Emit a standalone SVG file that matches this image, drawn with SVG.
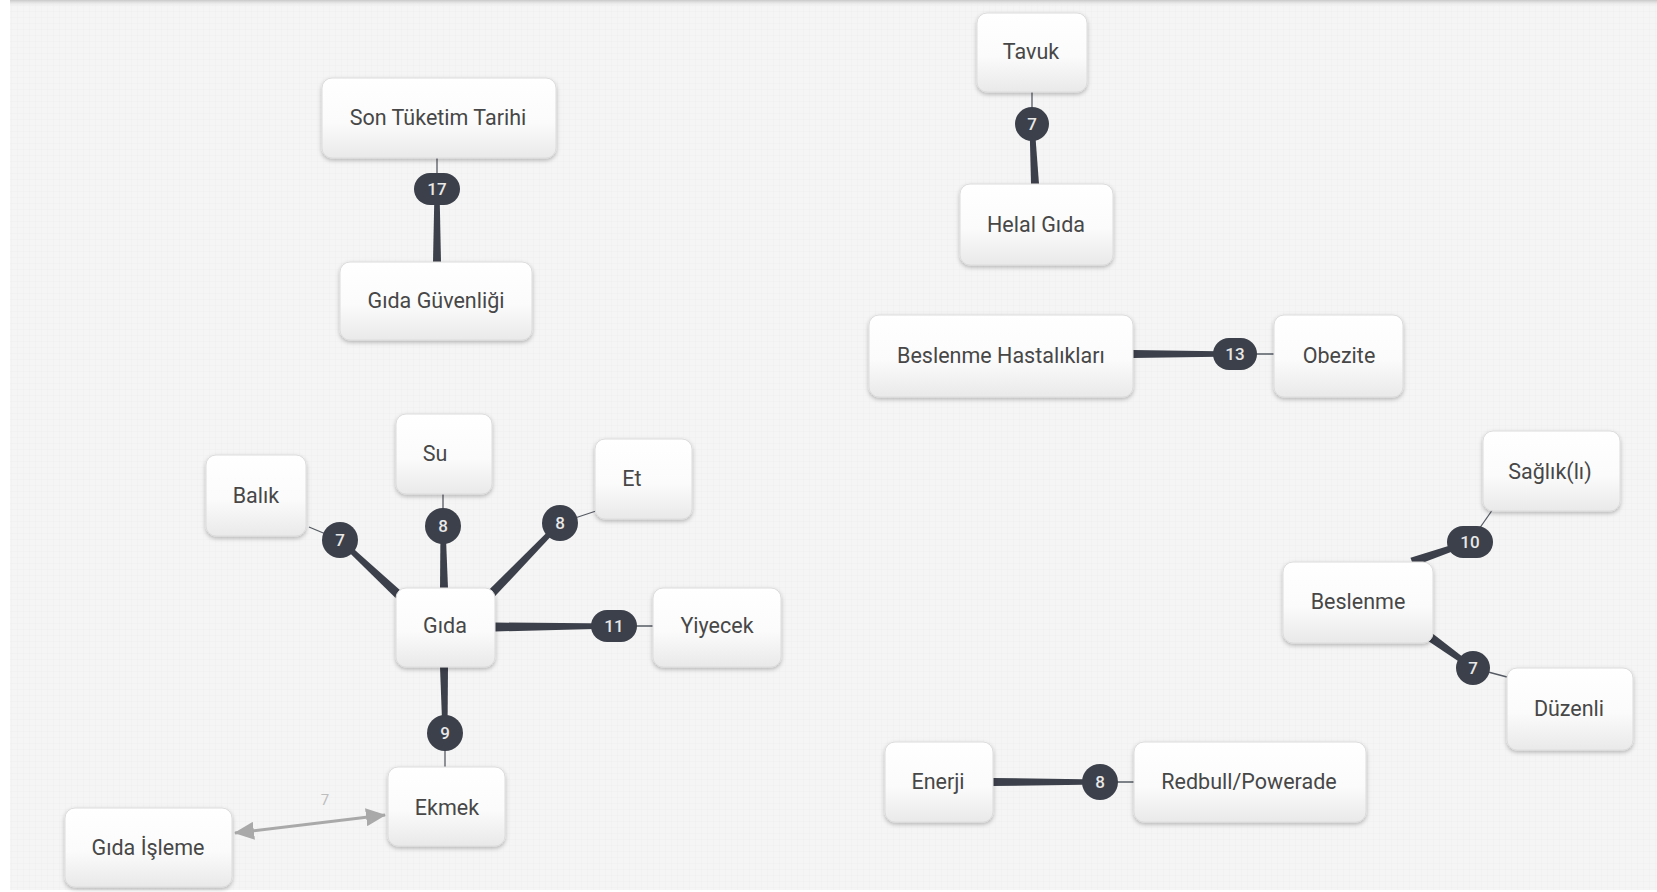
<svg xmlns="http://www.w3.org/2000/svg" width="1657" height="892" viewBox="0 0 1657 892">
<defs>
<linearGradient id="nodeGrad" x1="0" y1="0" x2="0" y2="1">
<stop offset="0" stop-color="#ffffff"/>
<stop offset="0.55" stop-color="#fbfbfb"/>
<stop offset="1" stop-color="#e9e9e9"/>
</linearGradient>
<linearGradient id="topShade" x1="0" y1="0" x2="0" y2="1">
<stop offset="0" stop-color="#c8c8c8"/>
<stop offset="1" stop-color="#f4f4f4" stop-opacity="0"/>
</linearGradient>
<pattern id="grid" width="6" height="6" patternUnits="userSpaceOnUse">
<rect width="6" height="6" fill="#f5f5f5"/>
<path d="M6 0V6M0 6H6" stroke="#efefef" stroke-width="1"/>
</pattern>
<filter id="shadow" x="-20%" y="-20%" width="140%" height="150%">
<feDropShadow dx="0" dy="2" stdDeviation="2.2" flood-color="#000" flood-opacity="0.26"/>
</filter>
<marker id="arrow" viewBox="0 0 20 18" refX="19" refY="9" markerWidth="20" markerHeight="18" markerUnits="userSpaceOnUse" orient="auto-start-reverse">
<path d="M0 0L20 9L0 18Z" fill="#a9a9a9"/>
</marker>
<style>
.node rect{fill:url(#nodeGrad);stroke:#dcdcdc;stroke-width:1;filter:url(#shadow)}
.node text{font-family:Roboto,"Liberation Sans",sans-serif;font-size:21.5px;fill:#474747;text-anchor:middle;dominant-baseline:central}
.thick{fill:#3c404a}
.thin{stroke:#555a63;stroke-width:1.3;fill:none}
.badge{fill:#3c404a}
.btxt{font-family:Roboto,"Liberation Sans",sans-serif;font-size:17px;font-weight:500;fill:#e8e8e8;text-anchor:middle;dominant-baseline:central}
</style>
</defs>
<rect width="1657" height="892" fill="#ffffff"/>
<rect x="10" y="0" width="1647" height="890" fill="url(#grid)"/>
<rect x="10" y="0" width="1647" height="7" fill="url(#topShade)"/>

<g id="connectors">
<!-- Son Tüketim Tarihi - Gıda Güvenliği -->
<line class="thin" x1="437" y1="157" x2="437" y2="189"/>
<polygon class="thick" points="434.5,189 439.5,189 441,262 433,262"/>
<rect class="badge" x="414" y="173" width="46" height="32" rx="16"/>
<text class="btxt" x="437" y="189">17</text>
<!-- Tavuk - Helal Gıda -->
<line class="thin" x1="1032" y1="92" x2="1032" y2="124"/>
<polygon class="thick" points="1029.5,124 1034.5,124 1039,184 1031,184"/>
<circle class="badge" cx="1032" cy="124" r="17"/>
<text class="btxt" x="1032" y="124">7</text>
<!-- Beslenme Hastalıkları - Obezite -->
<polygon class="thick" points="1133,350 1133,358 1235,356.5 1235,351.5"/>
<line class="thin" x1="1235" y1="354" x2="1274" y2="354"/>
<rect class="badge" x="1213" y="338" width="44" height="32" rx="16"/>
<text class="btxt" x="1235" y="354">13</text>
<!-- Gıda - Balık -->
<line class="thin" x1="340" y1="540" x2="309" y2="527"/>
<polygon class="thick" points="338.3,541.8 341.7,538.2 404.1,593.7 397.9,600.3"/>
<circle class="badge" cx="340" cy="540" r="18"/>
<text class="btxt" x="340" y="540">7</text>
<!-- Gıda - Su -->
<line class="thin" x1="443" y1="494" x2="443" y2="526"/>
<polygon class="thick" points="440.5,526 445.5,526 448,588 440,588"/>
<circle class="badge" cx="443" cy="526" r="18"/>
<text class="btxt" x="443" y="526">8</text>
<!-- Gıda - Et -->
<line class="thin" x1="560" y1="523" x2="596" y2="511"/>
<polygon class="thick" points="561.8,524.7 558.2,521.3 488.8,589.9 495.2,596.1"/>
<circle class="badge" cx="560" cy="523" r="18"/>
<text class="btxt" x="560" y="523">8</text>
<!-- Gıda - Yiyecek -->
<polygon class="thick" points="495,622.5 495,631.5 614,628.5 614,623.5"/>
<line class="thin" x1="614" y1="626" x2="653" y2="626"/>
<rect class="badge" x="591" y="610" width="46" height="32" rx="16"/>
<text class="btxt" x="614" y="626">11</text>
<!-- Gıda - Ekmek -->
<polygon class="thick" points="440,667 448,667 447.5,733 442.5,733"/>
<line class="thin" x1="445" y1="733" x2="445" y2="767"/>
<circle class="badge" cx="445" cy="733" r="18"/>
<text class="btxt" x="445" y="733">9</text>
<!-- Gıda İşleme - Ekmek -->
<line x1="235" y1="833" x2="385" y2="815" stroke="#a9a9a9" stroke-width="3" marker-start="url(#arrow)" marker-end="url(#arrow)"/>
<text x="325" y="800" font-family="Roboto,'Liberation Sans',sans-serif" font-size="15" fill="#bdbdbd" text-anchor="middle" dominant-baseline="central">7</text>
<!-- Beslenme - Sağlık(lı) -->
<polygon class="thick" points="1410.5,557.7 1413.5,566.3 1470.8,544.4 1469.2,539.6"/>
<line class="thin" x1="1470" y1="542" x2="1493" y2="509"/>
<rect class="badge" x="1447" y="526" width="46" height="32" rx="16"/>
<text class="btxt" x="1470" y="542">10</text>
<!-- Beslenme - Düzenli -->
<polygon class="thick" points="1432.6,633.4 1427.4,640.6 1471.5,670 1474.5,666"/>
<line class="thin" x1="1473" y1="668" x2="1507" y2="677"/>
<circle class="badge" cx="1473" cy="668" r="17"/>
<text class="btxt" x="1473" y="668">7</text>
<!-- Enerji - Redbull/Powerade -->
<polygon class="thick" points="993,778 993,786 1100,784.5 1100,779.5"/>
<line class="thin" x1="1100" y1="782" x2="1134" y2="782"/>
<circle class="badge" cx="1100" cy="782" r="18"/>
<text class="btxt" x="1100" y="782">8</text>
</g>

<g id="node-son-tuketim" class="node"><rect x="322" y="78" width="234" height="80" rx="10"/><text x="438" y="117">Son Tüketim Tarihi</text></g>
<g id="node-gida-guvenligi" class="node"><rect x="340" y="262" width="192" height="78" rx="10"/><text x="436" y="300">Gıda Güvenliği</text></g>
<g id="node-tavuk" class="node"><rect x="977" y="13" width="110" height="79" rx="10"/><text x="1031" y="51">Tavuk</text></g>
<g id="node-helal-gida" class="node"><rect x="960" y="184" width="153" height="81" rx="10"/><text x="1036" y="224">Helal Gıda</text></g>
<g id="node-beslenme-hastaliklari" class="node"><rect x="869" y="315" width="264" height="82" rx="10"/><text x="1001" y="355">Beslenme Hastalıkları</text></g>
<g id="node-obezite" class="node"><rect x="1274" y="315" width="129" height="82" rx="10"/><text x="1339" y="355">Obezite</text></g>
<g id="node-balik" class="node"><rect x="206" y="455" width="100" height="81" rx="10"/><text x="256" y="495">Balık</text></g>
<g id="node-su" class="node"><rect x="396" y="414" width="96" height="80" rx="10"/><text x="435" y="453">Su</text></g>
<g id="node-et" class="node"><rect x="595" y="439" width="97" height="80" rx="10"/><text x="632" y="478">Et</text></g>
<g id="node-gida" class="node"><rect x="396" y="588" width="99" height="79" rx="10"/><text x="445" y="625">Gıda</text></g>
<g id="node-yiyecek" class="node"><rect x="653" y="588" width="128" height="79" rx="10"/><text x="717" y="625">Yiyecek</text></g>
<g id="node-ekmek" class="node"><rect x="388" y="767" width="117" height="79" rx="10"/><text x="447" y="807">Ekmek</text></g>
<g id="node-gida-isleme" class="node"><rect x="65" y="808" width="167" height="79" rx="10"/><text x="148" y="847">Gıda İşleme</text></g>
<g id="node-saglik" class="node"><rect x="1483" y="431" width="137" height="80" rx="10"/><text x="1550" y="471">Sağlık(lı)</text></g>
<g id="node-beslenme" class="node"><rect x="1283" y="562" width="150" height="81" rx="10"/><text x="1358" y="601">Beslenme</text></g>
<g id="node-duzenli" class="node"><rect x="1507" y="668" width="126" height="82" rx="10"/><text x="1569" y="708">Düzenli</text></g>
<g id="node-enerji" class="node"><rect x="885" y="742" width="108" height="80" rx="10"/><text x="938" y="781">Enerji</text></g>
<g id="node-redbull" class="node"><rect x="1134" y="742" width="232" height="80" rx="10"/><text x="1249" y="781">Redbull/Powerade</text></g>
</svg>
